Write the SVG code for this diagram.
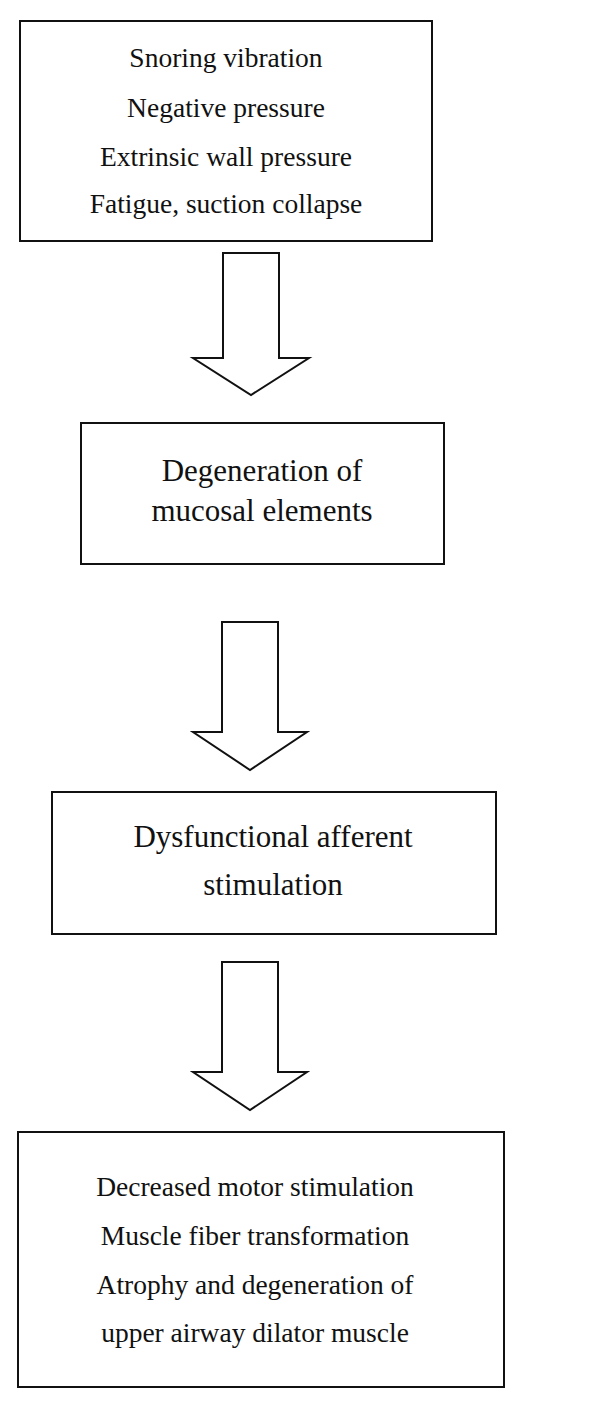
<svg xmlns="http://www.w3.org/2000/svg" width="600" height="1408" viewBox="0 0 600 1408">
<style>
.box{fill:#fff;stroke:#111;stroke-width:2}
.arr{fill:#fff;stroke:#111;stroke-width:2;stroke-linejoin:miter}
.t{font-family:"Liberation Serif",serif;fill:#111;text-anchor:middle}
.s{font-size:27.5px}
.l{font-size:31px}
</style>
<rect width="600" height="1408" fill="#fff"/>
<g id="connectors">
<polygon class="arr" points="223,253 279,253 279,358 309,358 251,395 193,358 223,358"/>
<polygon class="arr" points="222,622 278,622 278,732 307,732 250,770 193,732 222,732"/>
<polygon class="arr" points="222,962 278,962 278,1072 307,1072 250,1110 193,1072 222,1072"/>
</g>
<g id="node1">
<rect class="box" x="20" y="21" width="412" height="220"/>
<text class="t s" x="226" y="67">Snoring vibration</text>
<text class="t s" x="226" y="117">Negative pressure</text>
<text class="t s" x="226" y="166">Extrinsic wall pressure</text>
<text class="t s" x="226" y="213">Fatigue, suction collapse</text>
</g>
<g id="node2">
<rect class="box" x="81" y="423" width="363" height="141"/>
<text class="t l" x="262" y="481">Degeneration of</text>
<text class="t l" x="262" y="521">mucosal elements</text>
</g>
<g id="node3">
<rect class="box" x="52" y="792" width="444" height="142"/>
<text class="t l" x="273" y="847">Dysfunctional afferent</text>
<text class="t l" x="273" y="895">stimulation</text>
</g>
<g id="node4">
<rect class="box" x="18" y="1132" width="486" height="255"/>
<text class="t s" x="255" y="1196">Decreased motor stimulation</text>
<text class="t s" x="255" y="1245">Muscle fiber transformation</text>
<text class="t s" x="255" y="1294">Atrophy and degeneration of</text>
<text class="t s" x="255" y="1342">upper airway dilator muscle</text>
</g>
</svg>
